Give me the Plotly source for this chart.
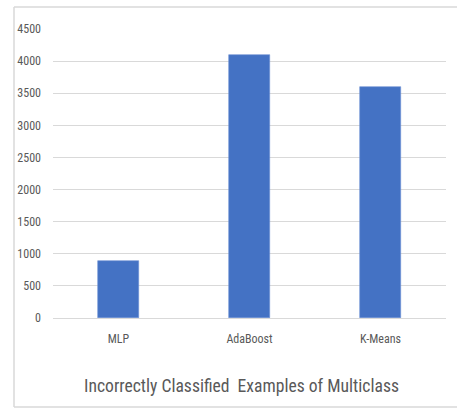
import plotly.graph_objects as go

# Data
models = ["MLP", "AdaBoost", "K-Means"]
misclassified = [890, 4090, 3590]
y_ticks = [0, 500, 1000, 1500, 2000, 2500, 3000, 3500, 4000, 4500]
title_text = "Incorrectly Classified\u00a0 Examples of Multiclass"

FONT = "Roboto Condensed, DejaVu Sans Condensed, sans-serif"
GREY = "#595959"
GRID = "#d9d9d9"

W, H = 457, 410
L, R, T, B = 53, 11, 29, 92
pw, ph = W - L - R, H - T - B


def px_x(px):
    return (px - L) / pw


def px_y(py):
    return (H - B - py) / ph


fig = go.Figure(
    go.Bar(
        x=models,
        y=misclassified,
        marker=dict(color="#4472C4", line=dict(color="#6b8fd4", width=0.6)),
        width=0.315,
    )
)

fig.update_layout(
    width=W,
    height=H,
    margin=dict(l=L, r=R, t=T, b=B, pad=0),
    paper_bgcolor="white",
    plot_bgcolor="white",
    showlegend=False,
    font=dict(family=FONT, size=12, color=GREY),
    bargap=0,
)

fig.update_xaxes(
    showgrid=False,
    showline=True,
    linecolor=GRID,
    linewidth=1.3,
    ticks="",
    tickfont=dict(family=FONT, size=12, color=GREY),
    ticklabelstandoff=9,
)
fig.update_yaxes(
    range=[0, 4500],
    tickvals=y_ticks,
    showgrid=True,
    gridcolor=GRID,
    gridwidth=1.3,
    zeroline=False,
    showline=False,
    ticks="",
    tickfont=dict(family=FONT, size=12, color=GREY),
    ticklabelstandoff=11,
)

# Title below the plot
fig.add_annotation(
    text=title_text,
    xref="paper", yref="paper",
    x=px_x(241), y=px_y(386),
    xanchor="center", yanchor="middle",
    showarrow=False,
    font=dict(family=FONT, size=17.6, color=GREY),
)

# Chart frame (left, top, bottom edges)
frame = dict(color=GRID, width=1.5)
fig.add_shape(type="line", xref="paper", yref="paper",
              x0=px_x(14), x1=px_x(14), y0=px_y(7), y1=px_y(407), line=frame)
fig.add_shape(type="line", xref="paper", yref="paper",
              x0=px_x(14), x1=px_x(460), y0=px_y(7), y1=px_y(7), line=frame)
fig.add_shape(type="line", xref="paper", yref="paper",
              x0=px_x(14), x1=px_x(460), y0=px_y(407), y1=px_y(407), line=frame)

fig.write_html("out.html")
